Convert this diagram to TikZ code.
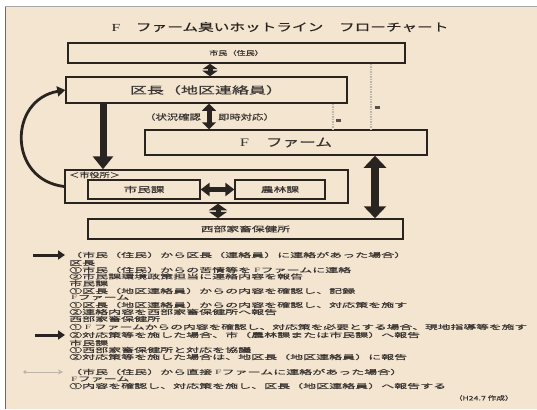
\documentclass[tikz,border=0pt]{standalone}
\usepackage{fontspec}
\usepackage{graphicx}
\usetikzlibrary{arrows.meta}
\newfontfamily\jpB[FakeStretch=2.0,FakeBold=0.4]{Noto Sans CJK JP}
\newfontfamily\jpX[FakeStretch=1.7,FakeBold=0.4]{Noto Sans CJK JP}
\newfontfamily\jpS[FakeStretch=1.45,FakeBold=0.4]{Noto Sans CJK JP}
\newfontfamily\jpT[FakeStretch=1.45,FakeBold=0.5]{Noto Sans CJK JP}
\newfontfamily\serT[FakeStretch=1.45]{Liberation Serif}
\newfontfamily\serB[FakeStretch=1.8]{Liberation Serif}
\newcommand\Fs{{\serB F}}
\definecolor{bg}{HTML}{F3E5D0}
\definecolor{ink}{HTML}{2A2420}
\definecolor{txt}{HTML}{3B3633}
\definecolor{dotg}{HTML}{BDB5AA}
\definecolor{edge}{HTML}{4A6FA5}
\tikzset{
  box/.style={draw=ink, line width=1.5pt, inner sep=0pt, text=txt},
  lt/.style={anchor=west, inner sep=0pt, text=txt, font=\jpB\fontsize{6.5}{6.5}\selectfont},
  dbl/.style={draw=ink, line width=5pt, {Triangle[width=14pt,length=7pt]}-{Triangle[width=14pt,length=7pt]}},
  dblbig/.style={draw=ink, line width=8pt, {Triangle[width=22pt,length=12pt]}-{Triangle[width=22pt,length=12pt]}},
  sgl/.style={draw=ink, line width=7pt, -{Triangle[width=20pt,length=13pt]}},
  dotline/.style={draw=dotg, line width=1.6pt, dash pattern=on 1.5pt off 1pt},
  legA/.style={draw=ink, line width=3pt, -{Triangle[width=9pt,length=7pt]}, shorten >=4pt},
  legC/.style={draw=dotg, line width=1pt, -{Stealth[width=5pt,length=5pt]}, shorten >=6pt},
}
\begin{document}
\begin{tikzpicture}[x=1pt,y=-1pt]
\useasboundingbox (0,0) rectangle (537,409);
\fill[white] (0,0) rectangle (537,409);
\fill[bg] (5,7) rectangle (537,409);
\draw[gray!70, line width=1pt] (5,7) -- (537,7);
\draw[edge, line width=1pt] (5,7) -- (5,409);

% title
\node[text=ink, font=\jpT\fontsize{10.8}{12}\selectfont] (title) at (280,27) {{\serT F}　ファーム臭いホットライン　フローチャート};

% boxes
\node[box, minimum width=337pt, minimum height=20pt, font=\jpS\fontsize{6.3}{7}\selectfont] (shimin) at (236.5,53) {市民（住民）};
\node[box, minimum width=281pt, minimum height=26pt, font=\jpX\fontsize{10}{11}\selectfont] (kucho) at (206.5,90) {区長（地区連絡員）};
\node[box, minimum width=282pt, minimum height=25pt, font=\jpT\fontsize{11.5}{12}\selectfont] (farm) at (286,142.5) {{\serT F}　ファーム};
\node[box, minimum width=283pt, minimum height=33pt] (shiyakusho) at (206.5,186.5) {};
\node[anchor=west, inner sep=0pt, text=txt, font=\jpS\fontsize{7}{7}\selectfont] (shiyalbl) at (69,175) {＜市役所＞};
\node[box, line width=1.2pt, minimum width=112pt, minimum height=19pt, font=\jpX\fontsize{8}{9}\selectfont] (shiminka) at (144,189.5) {市民課};
\node[box, line width=1.2pt, minimum width=90pt, minimum height=19pt, font=\jpX\fontsize{7.5}{8}\selectfont] (norinka) at (280,189.5) {農林課};
\node[box, minimum width=315pt, minimum height=20pt, font=\jpX\fontsize{7.5}{8}\selectfont] (seibu) at (245.5,229) {西部家畜保健所};

% helper coordinates for arrow positions
\coordinate (c1) at (210,0);
\coordinate (c2) at (209,0);
\coordinate (c3) at (103,0);
\coordinate (c4) at (375,0);
\coordinate (c5) at (218,0);
\coordinate (c6) at (371,0);
\coordinate (c7) at (333,0);

% connectors
\draw[dbl, {Triangle[width=15pt,length=5.5pt]}-{Triangle[width=15pt,length=5.5pt]}] (shimin.south -| c1) -- (kucho.north -| c1);
\draw[dbl] (kucho.south -| c2) -- (farm.north -| c2);
\node[anchor=east, inner sep=0pt, text=txt, font=\jpS\fontsize{7.8}{8}\selectfont] (lblA) at (201,117) {（状況確認};
\node[anchor=west, inner sep=0pt, text=txt, font=\jpS\fontsize{7.8}{8}\selectfont] (lblB) at (218,117) {即時対応）};
\draw[sgl] (kucho.south -| c3) -- (shiyakusho.north -| c3);
\draw[dblbig] (farm.south -| c4) -- (seibu.north -| c4);
\draw[dbl, line width=4.5pt, {Triangle[width=13pt,length=9pt]}-{Triangle[width=13pt,length=9pt]}] (shiminka.east) -- (norinka.west);
\draw[dbl, {Triangle[width=18pt,length=6.5pt]}-{Triangle[width=18pt,length=6.5pt]}] (shiyakusho.south -| c5) -- (seibu.north -| c5);
\draw[draw=ink, line width=2.8pt, -{Triangle[width=10pt,length=8pt]}] (shiyakusho.west) .. controls (8,180) and (8,100) .. (kucho.west);
\draw[dotline] (shimin.south -| c6) -- (farm.north -| c6);
\draw[dotline] (kucho.south -| c7) -- (farm.north -| c7);
\fill[ink!80] (375,105.5) rectangle (380,108.5);
\fill[ink!80] (336,118.5) rectangle (341,121.5);

% legend
\node[lt] (l1) at (69,255) {（市民（住民）から区長（連絡員）に連絡があった場合）};
\node[lt] (l2) at (69,263) {区長};
\node[lt] (l3) at (69,270) {①市民（住民）からの苦情等を \Fs ファームに連絡};
\node[lt] (l4) at (69,276.5) {②市民課環境政策担当に連絡内容を報告};
\node[lt] (l5) at (69,283.5) {市民課};
\node[lt] (l6) at (69,291) {①区長（地区連絡員）からの内容を確認し、記録};
\node[lt] (l7) at (71,297.5) {\Fs ファーム};
\node[lt] (l8) at (69,305) {①区長（地区連絡員）からの内容を確認し、対応策を施す};
\node[lt] (l9) at (69,312) {②連絡内容を西部家畜保健所へ報告};
\node[lt] (l10) at (69,319) {西部家畜保健所};
\node[lt] (l11) at (69,327) {\resizebox{458pt}{\height}{① \Fs\ ファームからの内容を確認し、対応策を必要とする場合、現地指導等を施す}};
\node[lt] (l12) at (69,335) {②対応策等を施した場合、市（農林課または市民課）へ報告};
\node[lt] (l13) at (69,343) {市民課};
\node[lt] (l14) at (69,350) {①西部家畜保健所と対応を協議};
\node[lt] (l15) at (69,357) {②対応策等を施した場合は、地区長（地区連絡員）に報告};
\node[lt] (l16) at (69,372) {（市民（住民）から直接 \Fs ファームに連絡があった場合）};
\node[lt] (l17) at (71,379) {\Fs ファーム};
\node[lt] (l18) at (69,386) {①内容を確認し、対応策を施し、区長（地区連絡員）へ報告する};
\node[anchor=east, inner sep=0pt, text=txt, font=\jpS\fontsize{6}{6}\selectfont] (date) at (514,398) {（H24.7 作成）};

\coordinate (la1) at (33,255);
\coordinate (la2) at (35,335);
\coordinate (la3) at (25,372);
\draw[legA] (la1) -- (l1.west);
\draw[legA] (la2) -- (l12.west);
\fill[dotg] (la3) circle (1.8pt);
\draw[legC] (la3) -- (l16.west);
\end{tikzpicture}
\end{document}
